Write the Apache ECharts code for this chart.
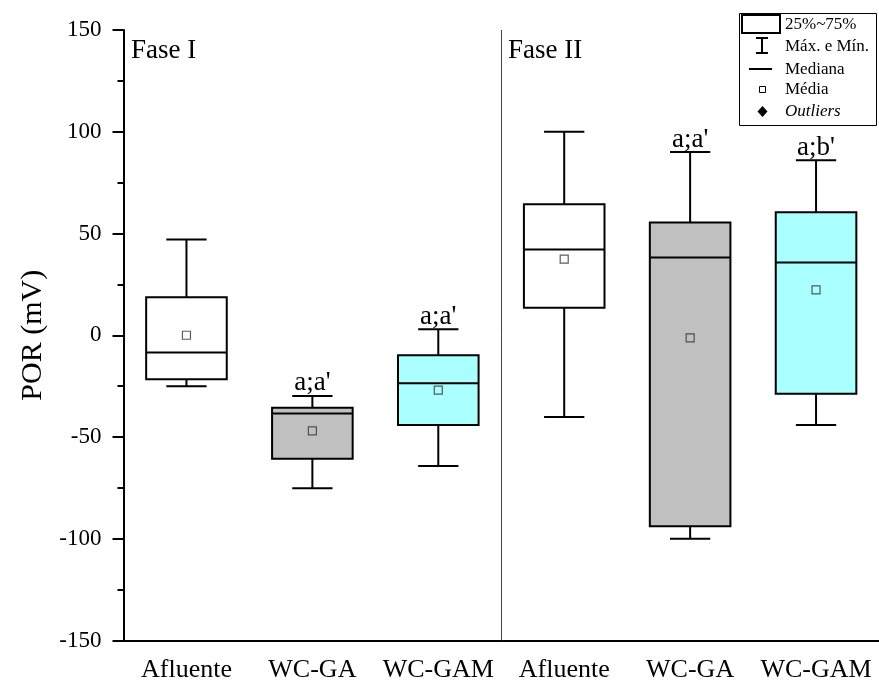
<!DOCTYPE html>
<html>
<head>
<meta charset="utf-8">
<script src="https://cdn.jsdelivr.net/npm/echarts@6/dist/echarts.min.js"></script>
<style>html,body{margin:0;padding:0;background:#fff}#c{width:879px;height:686px}</style>
</head>
<body>
<div id="c"></div>
<script>
const categories = ['Afluente', 'WC-GA', 'WC-GAM', 'Afluente', 'WC-GA', 'WC-GAM'];
const minVals    = [-25,  -75.2, -64.2, -40.2, -100,  -44.1];
const q1Vals     = [-21.6,-60.7, -44.1,  13.5,  -93.8, -28.7];
const medianVals = [-8.5, -38.4, -23.6,  42.1,  38.2,  35.7];
const q3Vals     = [18.7, -35.6,  -9.8,  64.4,  55.4,  60.5];
const maxVals    = [47,   -29.8,   3,    100,   90,    86];
const meanVals   = [0,    -47,   -27,    37.4,  -1.3,  22.3];
const boxColors  = ['#ffffff', '#c0c0c0', '#aaffff', '#ffffff', '#c0c0c0', '#aaffff'];
const annotations = ['', "a;a'", "a;a'", '', "a;a'", "a;b'"];
const yTicks = { min: -150, max: 150, interval: 50 };

const FONT = '"Liberation Serif", "Times New Roman", serif';

const boxData = categories.map((c, i) => [i, minVals[i], q1Vals[i], medianVals[i], q3Vals[i], maxVals[i]]);
const meanData = categories.map((c, i) => [i, meanVals[i]]);

const chart = echarts.init(document.getElementById('c'));

function renderBox(params, api) {
  const i = api.value(0);
  const bw = api.size([1, 0])[0];
  const boxW = bw * 0.64;
  const capW = bw * 0.32;
  const pMin = api.coord([i, api.value(1)]);
  const pQ1 = api.coord([i, api.value(2)]);
  const pMed = api.coord([i, api.value(3)]);
  const pQ3 = api.coord([i, api.value(4)]);
  const pMax = api.coord([i, api.value(5)]);
  const x = pMin[0];
  const ls = { stroke: '#000', lineWidth: 2 };
  const children = [
    { type: 'line', shape: { x1: x, y1: pMax[1], x2: x, y2: pQ3[1] }, style: ls },
    { type: 'line', shape: { x1: x, y1: pQ1[1], x2: x, y2: pMin[1] }, style: ls },
    { type: 'line', shape: { x1: x - capW / 2, y1: pMax[1], x2: x + capW / 2, y2: pMax[1] }, style: ls },
    { type: 'line', shape: { x1: x - capW / 2, y1: pMin[1], x2: x + capW / 2, y2: pMin[1] }, style: ls },
    { type: 'rect', shape: { x: x - boxW / 2, y: pQ3[1], width: boxW, height: pQ1[1] - pQ3[1] },
      style: { fill: boxColors[i], stroke: '#000', lineWidth: 2 } },
    { type: 'line', shape: { x1: x - boxW / 2, y1: pMed[1], x2: x + boxW / 2, y2: pMed[1] }, style: ls }
  ];
  if (annotations[i]) {
    children.push({ type: 'text', style: { text: annotations[i], x: x, y: pMax[1] + 1,
      align: 'center', verticalAlign: 'bottom', fill: '#000', font: '27px ' + FONT } });
  }
  if (i === 3) {
    const top = api.coord([i, yTicks.max])[1];
    const bot = api.coord([i, yTicks.min])[1];
    const sx = Math.round(x - bw / 2) + 0.5;
    children.push({ type: 'line', shape: { x1: sx, y1: top, x2: sx, y2: bot }, style: { stroke: '#444', lineWidth: 1 } });
  }
  return { type: 'group', children: children };
}

const LX = 739, LY = 13;
const LF = '17px ' + FONT;
const legendGraphics = [
  { type: 'rect', shape: { x: LX + 0.5, y: LY + 0.5, width: 137, height: 112 }, style: { fill: '#fff', stroke: '#000', lineWidth: 1 } },
  { type: 'rect', shape: { x: 742, y: 15, width: 38, height: 18 }, style: { fill: '#fff', stroke: '#000', lineWidth: 2 } },
  { type: 'line', shape: { x1: 762, y1: 38, x2: 762, y2: 53 }, style: { stroke: '#000', lineWidth: 2 } },
  { type: 'line', shape: { x1: 756, y1: 38, x2: 768, y2: 38 }, style: { stroke: '#000', lineWidth: 2 } },
  { type: 'line', shape: { x1: 756, y1: 53, x2: 768, y2: 53 }, style: { stroke: '#000', lineWidth: 2 } },
  { type: 'line', shape: { x1: 749, y1: 69, x2: 772, y2: 69 }, style: { stroke: '#000', lineWidth: 2 } },
  { type: 'rect', shape: { x: 759.5, y: 86.5, width: 6, height: 6 }, style: { fill: '#fff', stroke: '#000', lineWidth: 1 } },
  { type: 'polygon', shape: { points: [[762.5, 106], [767.5, 111.5], [762.5, 117], [757.5, 111.5]] }, style: { fill: '#000' } },
  { type: 'text', style: { text: '25%~75%', x: 785, y: 25, verticalAlign: 'middle', font: LF, fill: '#000' } },
  { type: 'text', style: { text: 'Máx. e Mín.', x: 785, y: 47, verticalAlign: 'middle', font: LF, fill: '#000' } },
  { type: 'text', style: { text: 'Mediana', x: 785, y: 70, verticalAlign: 'middle', font: LF, fill: '#000' } },
  { type: 'text', style: { text: 'Média', x: 785, y: 89.5, verticalAlign: 'middle', font: LF, fill: '#000' } },
  { type: 'text', style: { text: 'Outliers', x: 785, y: 112, verticalAlign: 'middle', font: 'italic ' + LF, fill: '#000' } },
  { type: 'text', style: { text: 'Fase I', x: 131, y: 51, verticalAlign: 'middle', font: '27px ' + FONT, fill: '#000' } },
  { type: 'text', style: { text: 'Fase II', x: 508, y: 51, verticalAlign: 'middle', font: '27px ' + FONT, fill: '#000' } }
];

chart.setOption({
  animation: false,
  backgroundColor: '#fff',
  grid: { left: 123.5, right: 0, top: 30, bottom: 45.5, containLabel: false },
  xAxis: {
    type: 'category',
    data: categories,
    boundaryGap: true,
    axisLine: { onZero: false, lineStyle: { color: '#000', width: 2 } },
    axisTick: { alignWithLabel: true, length: 11, lineStyle: { color: '#000', width: 2 } },
    axisLabel: { color: '#000', fontSize: 26, fontFamily: FONT, margin: 17, interval: 0 },
    splitLine: { show: false }
  },
  yAxis: {
    type: 'value',
    min: yTicks.min, max: yTicks.max, interval: yTicks.interval,
    name: 'POR (mV)',
    nameLocation: 'middle',
    nameGap: 73,
    nameTextStyle: { color: '#000', fontSize: 30, fontFamily: FONT },
    axisLine: { show: true, lineStyle: { color: '#000', width: 2 } },
    axisTick: { show: true, length: 11, lineStyle: { color: '#000', width: 2 } },
    minorTick: { show: true, splitNumber: 2, length: 6, lineStyle: { color: '#000', width: 2 } },
    axisLabel: { color: '#000', fontSize: 23, fontFamily: FONT, margin: 22 },
    splitLine: { show: false }
  },
  series: [
    { type: 'custom', renderItem: renderBox, data: boxData, encode: { x: 0, y: [1, 2, 3, 4, 5] }, z: 2 },
    { type: 'scatter', data: meanData, symbol: 'rect', symbolSize: 8,
      itemStyle: { color: 'rgba(0,0,0,0)', borderColor: '#333', borderWidth: 1.2 }, z: 5 }
  ],
  graphic: legendGraphics
});
</script>
</body>
</html>
